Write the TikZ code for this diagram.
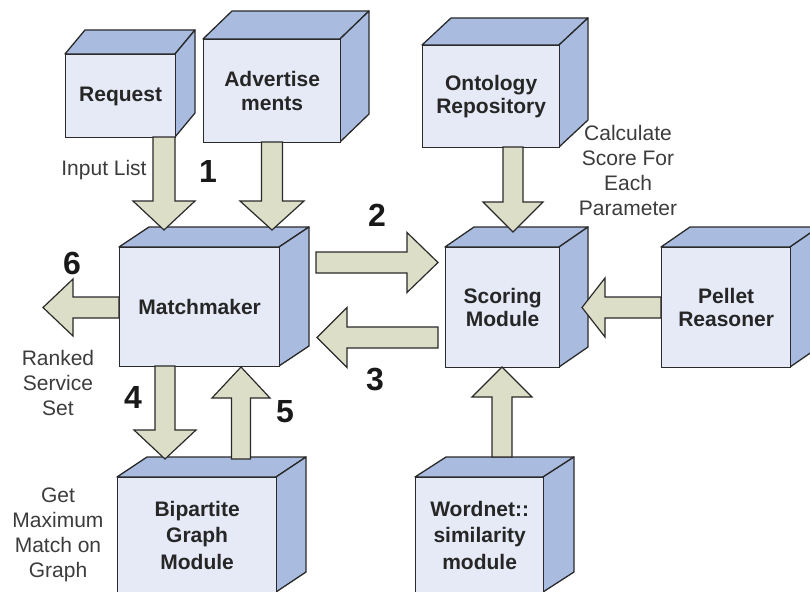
\documentclass[tikz,border=0pt]{standalone}
\usepackage{fontspec}
\setmainfont{Liberation Sans}
\definecolor{frontc}{HTML}{E5EAF6}
\definecolor{sidec}{HTML}{A9BCE0}
\definecolor{arrowc}{HTML}{DCDEC8}
\definecolor{edgec}{HTML}{2A2A2A}
\definecolor{labelc}{HTML}{3C3C3C}
\tikzset{
 faceside/.style={fill=sidec, draw=edgec, line width=1.3pt, line join=round},
 facefront/.style={fill=frontc, draw=edgec, line width=1.3pt, inner sep=0pt, align=center,
   font=\bfseries\fontsize{21}{23.5}\selectfont, text=black!85},
 tallfront/.style={font=\bfseries\fontsize{21}{26.5}\selectfont},
 barrow/.style={fill=arrowc, draw=edgec, line width=1.2pt, line join=miter},
 lbl/.style={align=center, text=labelc, font=\fontsize{21}{25}\selectfont, inner sep=0pt},
 num/.style={font=\bfseries\fontsize{32}{32}\selectfont, inner sep=0pt, text=black!90}
}
% [extra style] name, x1, y1, x2, y2, dx, dy, text
\newcommand\cubebox[9][]{%
 \draw[faceside] (#3,#4) -- (#3+#7,#4-#8) -- (#5+#7,#4-#8) -- (#5,#4) -- cycle;
 \draw[faceside] (#5,#4) -- (#5+#7,#4-#8) -- (#5+#7,#6-#8) -- (#5,#6) -- cycle;
 \node[facefront, #1, anchor=north west, minimum width={(#5-#3)*1pt}, minimum height={(#6-#4)*1pt}] (#2) at (#3,#4) {#9};
}
% vertical block arrow: xc, ystart, yheadbase, ytip, half shaft, half head
\newcommand\blockv[6]{%
 \draw[barrow] (#1-#5,#2) -- (#1-#5,#3) -- (#1-#6,#3) -- (#1,#4) -- (#1+#6,#3) -- (#1+#5,#3) -- (#1+#5,#2) -- cycle;
}
% horizontal block arrow: yc, xstart, xheadbase, xtip, half shaft, half head
\newcommand\blockh[6]{%
 \draw[barrow] (#2,#1-#5) -- (#3,#1-#5) -- (#3,#1-#6) -- (#4,#1) -- (#3,#1+#6) -- (#3,#1+#5) -- (#2,#1+#5) -- cycle;
}
\begin{document}
\begin{tikzpicture}[x=1pt,y=-1pt]
\useasboundingbox (0,0) rectangle (810,591);
\clip (0,0) rectangle (810,591);
\fill[white] (0,0) rectangle (810,591);

\cubebox{req}{65}{54}{175}{137}{20}{24}{Request}
\cubebox{adv}{203}{39}{340}{142}{29}{28}{Advertise\\ments}
\cubebox{onto}{422}{45}{559}{147}{29}{27}{Ontology\\Repository}
\cubebox{mm}{119}{247}{279}{366}{30}{20}{Matchmaker}
\cubebox{score}{445}{247}{559}{367}{29}{20}{Scoring\\Module}
\cubebox{pellet}{661}{247}{790}{367}{29}{20}{Pellet\\Reasoner}
\cubebox[tallfront]{bip}{117}{477}{276}{592}{30}{20}{Bipartite\\Graph\\Module}
\cubebox[tallfront]{word}{415}{477}{543}{592}{31}{20}{Wordnet::\\similarity\\module}

% vertical arrows
\blockv{164}{137}{201}{230}{11}{31}
\blockv{272}{142}{201}{230}{10.5}{32}
\blockv{513}{147}{202}{232}{10}{30}
\blockv{165}{366}{430}{459}{10}{31}
\blockv{241}{459}{398}{367}{9.5}{29}
\blockv{502}{457}{397}{367}{10}{30}
% horizontal arrows
\blockh{262.5}{316}{407}{438}{10.5}{30}
\blockh{337.5}{438}{347}{317}{10.5}{30}
\blockh{307.5}{119}{73}{43}{10.5}{28.5}
\blockh{307.5}{661}{605}{582}{10.5}{29.5}

% labels
\node[lbl] (inlist) at (104,170) {Input List};
\node[lbl] (calc) at (628,170) {Calculate\\Score For\\Each\\Parameter};
\node[lbl] (ranked) at (58,383) {Ranked\\Service\\Set};
\node[lbl] (getmax) at (58,534.5) {Get\\Maximum\\Match on\\Graph};

% numbers
\node[num] (n1) at (208,171) {1};
\node[num] (n2) at (377,215) {2};
\node[num] (n3) at (375,380) {3};
\node[num] (n4) at (133,397) {4};
\node[num] (n5) at (285,412) {5};
\node[num] (n6) at (72,263) {6};
\end{tikzpicture}
\end{document}
